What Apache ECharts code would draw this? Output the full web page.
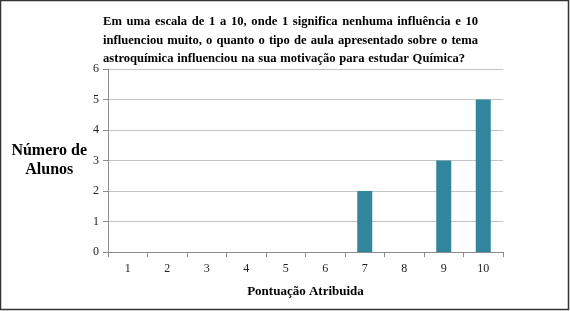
<!DOCTYPE html>
<html><head><meta charset="utf-8">
<script src="https://cdn.jsdelivr.net/npm/echarts@6/dist/echarts.min.js"></script>
<style>html,body{margin:0;padding:0;background:#fff}#c{width:570px;height:311px}</style>
</head><body><div id="c"></div>
<script>
const categories = ['1','2','3','4','5','6','7','8','9','10'];
const values = [0,0,0,0,0,0,2,0,3,5];
const yTicks = [0,1,2,3,4,5,6];
const titleLines = [
  'Em uma escala de 1 a 10, onde 1 significa nenhuma influência e 10',
  'influenciou muito, o quanto o tipo de aula apresentado sobre o tema',
  'astroquímica influenciou na sua motivação para estudar Química?'
];
const yName = 'Número de\nAlunos';
const xName = 'Pontuação Atribuida';

const FONT = '"Liberation Serif","Times New Roman",serif';
const chart = echarts.init(document.getElementById('c'), null, {renderer:'canvas'});

const titleFont = 'bold 12.6px ' + FONT;
const cv = document.createElement('canvas').getContext('2d');
cv.font = titleFont;
const tLeft = 103, tRight = 478, tTop = 22, tLh = 18.5;
const spaceW = cv.measureText(' ').width;
const graphics = [];
titleLines.forEach((line, i) => {
  const words = line.split(' ');
  const last = i === titleLines.length - 1;
  const widths = words.map(w => cv.measureText(w).width);
  const total = widths.reduce((a,b)=>a+b,0);
  const gap = last ? spaceW * 1.2 : (tRight - tLeft - total) / (words.length - 1);
  let x = tLeft;
  words.forEach((w, j) => {
    graphics.push({type:'text', x:x, y:tTop + i*tLh, silent:true,
      style:{text:w, font:titleFont, fill:'#000', verticalAlign:'middle', align:'left'}});
    x += widths[j] + gap;
  });
});
graphics.push({type:'rect', silent:true,
  shape:{x:0.5,y:0.5,width:568,height:309}, style:{fill:'none', stroke:'#333', lineWidth:1.5}});

chart.setOption({
  animation:false,
  backgroundColor:'#fff',
  grid:{left:108, right:67, top:69, bottom:59, containLabel:false},
  xAxis:{type:'category', data:categories, boundaryGap:true,
    name:xName, nameLocation:'middle', nameGap:33,
    nameTextStyle:{fontFamily:FONT, fontWeight:'bold', fontSize:13, color:'#000'},
    axisLine:{lineStyle:{color:'#8c8c8c', width:1}},
    axisTick:{show:true, length:5, lineStyle:{color:'#8c8c8c'}},
    axisLabel:{fontFamily:FONT, fontSize:12, color:'#222', margin:11}},
  yAxis:{type:'value', min:yTicks[0], max:yTicks[yTicks.length-1], interval:1,
    name:yName, nameLocation:'middle', nameRotate:0, nameGap:51,
    nameTextStyle:{fontFamily:FONT, fontWeight:'bold', fontSize:16, color:'#000', lineHeight:19, align:'center', padding:[0,0,10,0]},
    axisLine:{show:true, lineStyle:{color:'#8c8c8c', width:1}},
    axisTick:{show:true, length:5, lineStyle:{color:'#8c8c8c'}},
    axisLabel:{fontFamily:FONT, fontSize:12, color:'#222', margin:9},
    splitLine:{lineStyle:{color:'#c4c4c4', width:1}}},
  series:[{type:'bar', data:values, barWidth:15,
    itemStyle:{color:'#31859C', borderWidth:0}}],
  graphic:graphics
});
</script></body></html>
